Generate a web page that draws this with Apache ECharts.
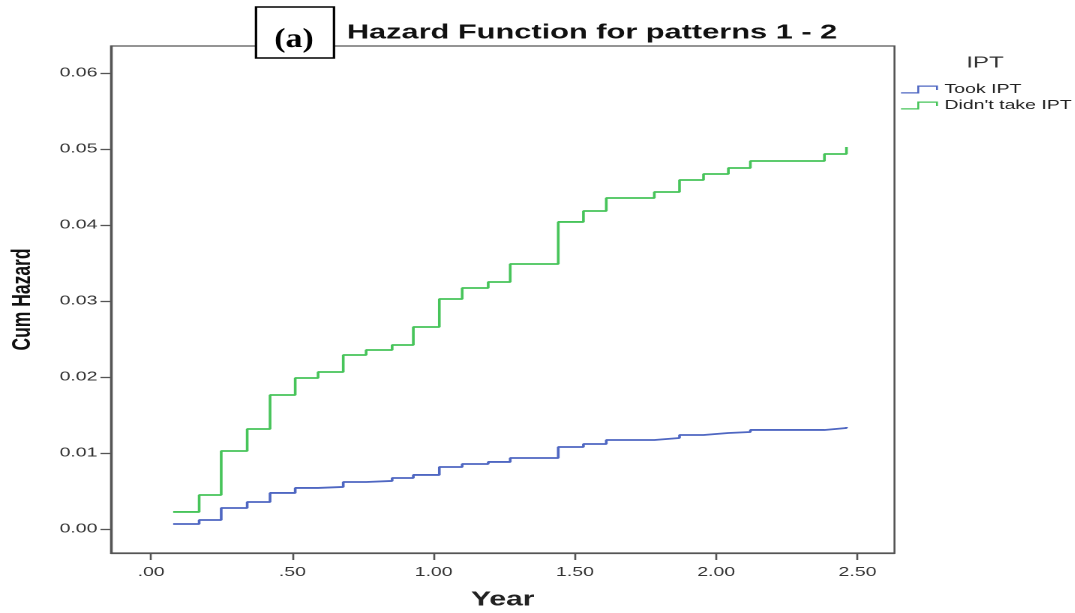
<!DOCTYPE html>
<html>
<head>
<meta charset="utf-8">
<script src="https://cdn.jsdelivr.net/npm/echarts@6/dist/echarts.min.js"></script>
<style>
  html, body { margin: 0; padding: 0; background: #fff; overflow: hidden; }
  /* the original figure is stretched sideways, so the chart is drawn narrow and scaled by 1.5 */
  #chart { width: 716.67px; height: 613px; transform: scaleX(1.5); transform-origin: 0 0; }
</style>
</head>
<body>
<div id="chart"></div>
<script>
// step times (years), shared by both groups
const years = [0.078, 0.170, 0.248, 0.340, 0.421, 0.510, 0.591, 0.680, 0.761, 0.853,
  0.928, 1.020, 1.101, 1.193, 1.271, 1.441, 1.530, 1.611, 1.781, 1.870,
  1.955, 2.043, 2.121, 2.383, 2.461];

const tookIPT = [0.00066, 0.00118, 0.00276, 0.00355, 0.00474, 0.00540, 0.00553, 0.00618, 0.00632, 0.00671,
  0.00711, 0.00816, 0.00855, 0.00882, 0.00934, 0.01079, 0.01118, 0.01171, 0.01197, 0.01237,
  0.01263, 0.01276, 0.01303, 0.01329, 0.01342];

const didntTakeIPT = [0.00224, 0.00447, 0.01026, 0.01316, 0.01763, 0.01987, 0.02066, 0.02289, 0.02355, 0.02421,
  0.02658, 0.03026, 0.03171, 0.03250, 0.03487, 0.04040, 0.04184, 0.04355, 0.04434, 0.04592,
  0.04671, 0.04750, 0.04842, 0.04934, 0.05026];

const xTicks = [0, 0.5, 1, 1.5, 2, 2.5];
const xTickLabels = ['.00', '.50', '1.00', '1.50', '2.00', '2.50'];
const yTicks = [0, 0.01, 0.02, 0.03, 0.04, 0.05, 0.06];
const yTickLabels = ['0.00', '0.01', '0.02', '0.03', '0.04', '0.05', '0.06'];

const S = 1.5; // horizontal stretch of the figure
const font = '"Liberation Sans", Arial, sans-serif';
const stepIcon = 'path://M0,9 L12,9 L12,2 L25,2 L25,6';
const blue = '#4f67c2';
const green = '#47c45a';

const chart = echarts.init(document.getElementById('chart'), null, { devicePixelRatio: 2 });

function pairs(vals) {
  return years.map((t, i) => [t, vals[i]]);
}

chart.setOption({
  animation: false,
  textStyle: { fontFamily: font },
  legend: {
    orient: 'vertical',
    left: 900 / S,
    top: 83,
    padding: 0,
    itemWidth: 24,
    itemHeight: 9,
    itemGap: 3,
    icon: stepIcon,
    textStyle: { fontSize: 13, color: '#222', fontFamily: font },
    data: [
      { name: 'Took IPT', itemStyle: { color: 'transparent', borderColor: blue, borderWidth: 1.3 } },
      { name: "Didn't take IPT", itemStyle: { color: 'transparent', borderColor: green, borderWidth: 1.3 } }
    ]
  },
  graphic: [
    {
      type: 'text',
      x: 592 / S,
      y: 33,
      style: {
        text: 'Hazard Function for patterns 1 - 2',
        font: 'bold 20.5px "Liberation Sans", Arial, sans-serif',
        fill: '#111',
        align: 'center',
        verticalAlign: 'middle'
      }
    },
    {
      type: 'text',
      x: 985 / S,
      y: 63,
      style: {
        text: 'IPT',
        font: '16px "Liberation Sans", Arial, sans-serif',
        fill: '#333',
        align: 'center',
        verticalAlign: 'middle'
      }
    },
    {
      type: 'rect',
      shape: { x: 256 / S, y: 7, width: 78 / S, height: 51 },
      style: { fill: '#fff', stroke: '#000', lineWidth: 1.6 },
      z: 100
    },
    {
      type: 'text',
      x: 294 / S,
      y: 40,
      scaleX: 1.25 / S,
      style: {
        text: '(a)',
        font: 'bold 27px "Liberation Serif", "Times New Roman", serif',
        fill: '#000',
        align: 'center',
        verticalAlign: 'middle'
      },
      z: 101
    }
  ],
  grid: {
    left: 111 / S,
    right: 181 / S,
    top: 46,
    bottom: 60,
    outerBoundsMode: 'none',
    containLabel: false,
    show: true,
    borderColor: '#555',
    borderWidth: 1.3,
    backgroundColor: '#fff'
  },
  xAxis: {
    type: 'value',
    min: -0.142,
    max: 2.631,
    name: 'Year',
    nameLocation: 'middle',
    nameGap: 37,
    nameTextStyle: { fontSize: 20, fontWeight: 'bold', color: '#222', fontFamily: font },
    axisLine: { show: true, onZero: false, lineStyle: { color: '#555', width: 1.3 } },
    axisTick: { show: true, customValues: xTicks, length: 7, lineStyle: { color: '#555', width: 1.3 } },
    axisLabel: {
      customValues: xTicks,
      margin: 13,
      fontSize: 13,
      color: '#333',
      formatter: (v) => xTickLabels[xTicks.indexOf(Math.round(v * 100) / 100)]
    },
    splitLine: { show: false }
  },
  yAxis: {
    type: 'value',
    min: -0.00316,
    max: 0.06355,
    name: 'Cum Hazard',
    nameLocation: 'middle',
    nameGap: 50,
    nameRotate: 90,
    nameTextStyle: { fontSize: 17.5, fontWeight: 'bold', color: '#111', fontFamily: font },
    axisLine: { show: true, onZero: false, lineStyle: { color: '#555', width: 1.3 } },
    axisTick: { show: true, customValues: yTicks, length: 7, lineStyle: { color: '#555', width: 1.3 } },
    axisLabel: {
      customValues: yTicks,
      margin: 9,
      fontSize: 13,
      color: '#333',
      formatter: (v) => yTickLabels[yTicks.indexOf(Math.round(v * 100) / 100)]
    },
    splitLine: { show: false }
  },
  series: [
    {
      name: 'Took IPT',
      type: 'line',
      step: 'end',
      data: pairs(tookIPT),
      showSymbol: false,
      symbol: 'none',
      lineStyle: { color: blue, width: 1.8 },
      itemStyle: { color: blue }
    },
    {
      name: "Didn't take IPT",
      type: 'line',
      step: 'end',
      data: pairs(didntTakeIPT),
      showSymbol: false,
      symbol: 'none',
      lineStyle: { color: green, width: 1.8 },
      itemStyle: { color: green }
    }
  ]
});
</script>
</body>
</html>
